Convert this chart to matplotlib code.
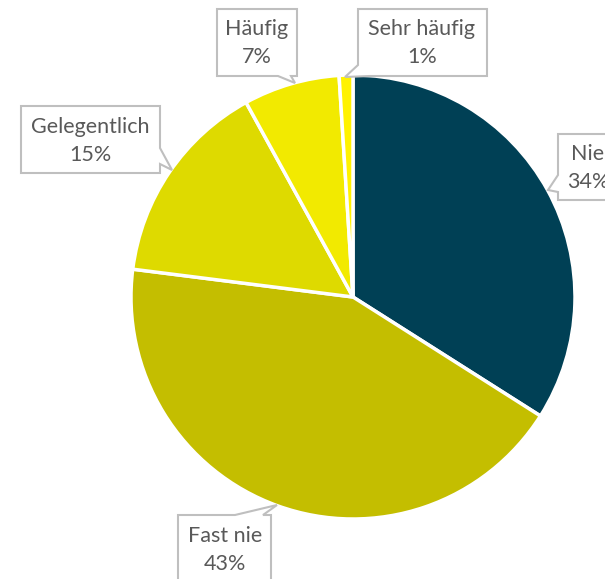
import matplotlib
matplotlib.use("Agg")
import matplotlib.pyplot as plt
from matplotlib.patches import Polygon

categories = ["Nie", "Fast nie", "Gelegentlich", "Häufig", "Sehr häufig"]
values = [34, 43, 15, 7, 1]
labels = ["34%", "43%", "15%", "7%", "1%"]
colors = ["#004055", "#C4BE00", "#DEDA00", "#F2EA00", "#FFF200"]

W, H = 605, 579
fig = plt.figure(figsize=(W / 100, H / 100), dpi=100)
ax = fig.add_axes([0, 0, 1, 1])

cx, cy, r = 353, H - 297, 222
ax.pie(values, colors=colors, startangle=90, counterclock=False,
       center=(cx, cy), radius=r, frame=True,
       wedgeprops=dict(edgecolor="white", linewidth=2.5))
ax.set_xlim(0, W)
ax.set_ylim(0, H)
ax.set_aspect("equal")
ax.axis("off")

# callout shapes in image pixel coordinates (y down)
callouts = {
    "Häufig": [(217, 9), (297, 9), (297, 76), (291, 76), (295, 83), (278, 76), (217, 76)],
    "Sehr häufig": [(358, 9), (487, 9), (487, 76), (370, 76), (345, 77), (358, 65)],
    "Gelegentlich": [(21, 106), (160, 106), (160, 148), (172, 170), (160, 164), (160, 173), (21, 173)],
    "Nie": [(558, 134), (640, 134), (640, 200), (558, 200), (558, 192), (548, 190), (558, 175)],
    "Fast nie": [(178, 515), (235, 515), (277, 505), (263, 515), (271, 515), (271, 640), (178, 640)],
}
text_pos = {
    "Häufig": (257, 43),
    "Sehr häufig": (422, 43),
    "Gelegentlich": (90, 141),
    "Nie": (588, 168),
    "Fast nie": (225, 550),
}

for cat, lab in zip(categories, labels):
    pts = [(x, H - y) for x, y in callouts[cat]]
    ax.add_patch(Polygon(pts, closed=True, facecolor="white", edgecolor="#BFBFBF",
                         linewidth=1.5, clip_on=False, zorder=5))
    tx, ty = text_pos[cat]
    ax.text(tx, H - ty, f"{cat}\n{lab}", ha="center", va="center", fontsize=15.5,
            family="Lato", color="#595959", linespacing=1.45, zorder=6)

fig.savefig("out.png", dpi=100)
